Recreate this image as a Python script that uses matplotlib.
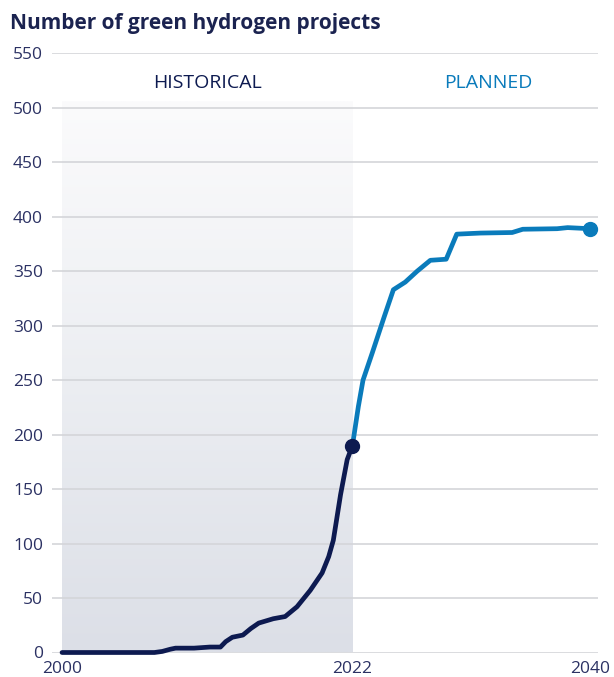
import numpy as np
import matplotlib.pyplot as plt
from matplotlib.colors import LinearSegmentedColormap

plt.rcParams['font.family'] = ['Open Sans', 'DejaVu Sans']

# cumulative number of green hydrogen projects
hist_years = [2000, 2007.0, 2007.6, 2008.2, 2008.6, 2010.0, 2011.2, 2012.0, 2012.4,
              2012.9, 2013.7, 2014.3, 2014.9, 2016.0, 2016.9, 2017.8, 2018.8,
              2019.7, 2020.2, 2020.55, 2020.8, 2021.1, 2021.6, 2022]
hist_values = [0, 0, 1, 3, 4, 4, 5, 5, 10,
               14, 16, 22, 27, 31, 33, 42, 57,
               73, 88, 103, 122, 145, 177, 190]

plan_years = [2022, 2022.45, 2022.8, 2023.5, 2024.4, 2025.1, 2026.0, 2026.9,
              2027.9, 2029.1, 2029.9, 2031.7, 2034.1, 2034.9, 2037.5, 2038.3, 2040]
plan_values = [190, 226, 250, 275, 308, 333, 340, 350,
               360, 361, 384, 385, 385.5, 388.5, 389, 390, 389]

y_ticks = list(range(0, 551, 50))
x_ticks = [2000, 2022, 2040]

navy = '#0d1a50'
blue = '#0a7bbb'
label_color = '#2b3163'

fig = plt.figure(figsize=(6.14, 6.77), dpi=100)
ax = fig.add_axes([52 / 614, 24.5 / 677, 546 / 614, 599.2 / 677])
ax.set_xlim(1999.24, 2040.6)
ax.set_ylim(0, 550)

# shaded background behind the historical period, fading out towards the top
shade = LinearSegmentedColormap.from_list('shade', ['#fbfbfc', '#eceef2', '#dcdfe7'])
grad = np.linspace(0, 1, 256).reshape(-1, 1)
ax.imshow(grad, extent=[2000, 2022, 0, 505], aspect='auto', cmap=shade,
          origin='upper', zorder=0)

for v in y_ticks:
    ax.axhline(v, color='#d4d5d9', linewidth=1.2, zorder=1)

ax.plot(plan_years, plan_values, color=blue, linewidth=3.4,
        solid_capstyle='round', solid_joinstyle='round', zorder=3, clip_on=False)
ax.plot(hist_years, hist_values, color=navy, linewidth=3.4,
        solid_capstyle='round', solid_joinstyle='round', zorder=4, clip_on=False)
ax.plot([hist_years[-1]], [hist_values[-1]], 'o', color=navy, markersize=10,
        zorder=5, clip_on=False)
ax.plot([plan_years[-1]], [plan_values[-1]], 'o', color=blue, markersize=10,
        zorder=5, clip_on=False)

ax.text(2011, 523, 'HISTORICAL', color=navy, fontsize=14, ha='center', va='center')
ax.text(2032.3, 523, 'PLANNED', color=blue, fontsize=14, ha='center', va='center')

ax.set_yticks(y_ticks)
ax.set_xticks(x_ticks)
ax.tick_params(axis='both', length=0, labelsize=12.5, labelcolor=label_color)
ax.tick_params(axis='y', pad=6.5)
ax.tick_params(axis='x', pad=6)
for side in ['top', 'right', 'bottom', 'left']:
    ax.spines[side].set_visible(False)

fig.text(10 / 614, 1 - 28.5 / 677, 'Number of green hydrogen projects',
         color='#1b2350', fontsize=15, fontweight='bold', va='baseline', ha='left')

fig.savefig('out.png', dpi=100)
plt.close()
